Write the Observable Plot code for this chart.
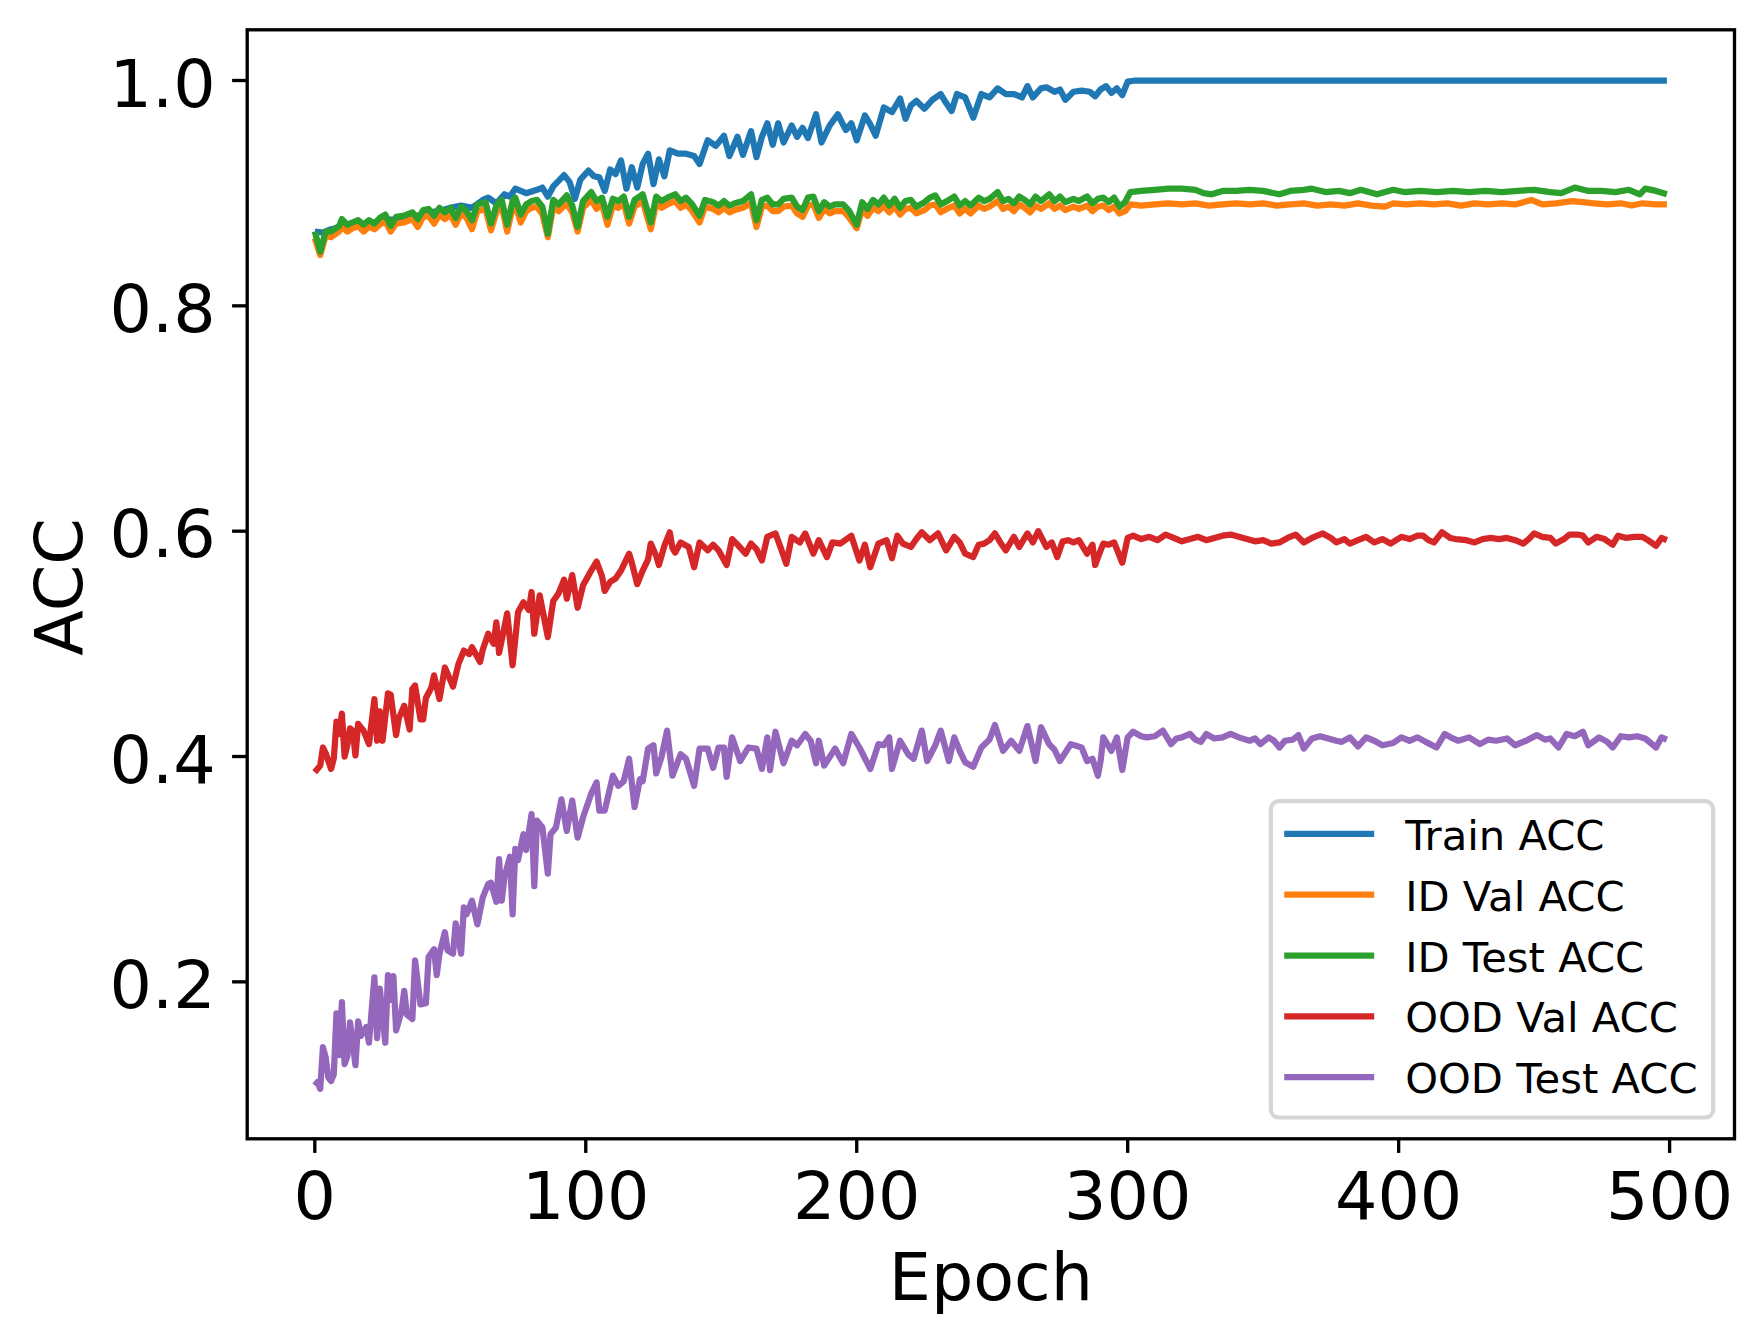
<!DOCTYPE html>
<html>
<head>
<meta charset="utf-8">
<script src="https://cdn.jsdelivr.net/npm/d3@7"></script>
<script src="https://cdn.jsdelivr.net/npm/@observablehq/plot@0.6"></script>
<style>
  html, body { margin: 0; padding: 0; background: #fff; }
  #chart svg { display: block; }
</style>
</head>
<body>
<div id="chart"></div>
<script>
// ---------- data ----------
const seriesNames = ["Train ACC", "ID Val ACC", "ID Test ACC", "OOD Val ACC", "OOD Test ACC"];
const seriesColors = ["#1f77b4", "#ff7f0e", "#2ca02c", "#d62728", "#9467bd"];
const xTicks = [0, 100, 200, 300, 400, 500];
const yTicks = [0.2, 0.4, 0.6, 0.8, 1.0];

const trainEpoch = [0,3,6,10,14,18,22,26,30,34,38,42,46,50,54,58,62,64,67,70,72,74,78,82,84,86,88,92,94,96,98,101,103,105,107,109,111,113,115,117,119,121,123,125,127,129,131,134,137,140,142,145,148,151,153,156,158,161,163,165,167,169,171,173,176,178,180,182,185,187,190,193,196,198,200,203,205,207,210,213,216,218,220,222,225,228,231,233,235,237,240,243,246,249,252,255,258,261,263,265,268,270,273,275,277,280,283,286,288,290,292,294,296,298,300,303,350,400,450,499];
const trainAcc = [0.866,0.865,0.868,0.870,0.872,0.872,0.874,0.877,0.876,0.879,0.880,0.883,0.884,0.887,0.889,0.887,0.894,0.896,0.891,0.899,0.897,0.904,0.900,0.903,0.905,0.897,0.906,0.916,0.910,0.895,0.912,0.920,0.915,0.914,0.902,0.921,0.917,0.929,0.904,0.923,0.905,0.926,0.935,0.908,0.930,0.915,0.938,0.935,0.935,0.933,0.926,0.947,0.942,0.951,0.933,0.950,0.934,0.955,0.932,0.950,0.962,0.943,0.962,0.945,0.960,0.950,0.958,0.949,0.970,0.945,0.960,0.970,0.956,0.962,0.947,0.969,0.961,0.951,0.976,0.972,0.984,0.966,0.978,0.982,0.975,0.983,0.988,0.980,0.973,0.988,0.985,0.967,0.988,0.985,0.993,0.988,0.988,0.985,0.995,0.985,0.993,0.994,0.990,0.992,0.983,0.990,0.991,0.990,0.986,0.992,0.995,0.989,0.993,0.987,0.999,1.000,1.000,1.000,1.000,1.000];

const idValEpoch = [0,2,4,6,9,10,12,14,16,18,20,22,24,26,28,30,33,36,38,40,42,44,46,48,50,52,54,56,58,60,63,65,67,69,71,73,74,76,78,80,82,84,86,88,90,93,95,97,99,102,104,106,108,110,112,114,116,118,121,124,126,128,131,133,135,137,139,142,144,147,149,151,153,155,158,161,163,165,167,169,171,173,176,178,180,182,184,186,188,190,192,195,197,200,202,204,206,208,210,212,214,216,218,220,222,225,227,229,231,234,236,238,240,242,245,247,249,252,254,256,258,260,262,264,266,268,271,273,275,277,280,282,285,287,289,291,293,295,297,299,301,305,310,315,320,325,330,335,340,345,350,355,360,365,370,375,380,385,390,395,398,403,408,413,418,423,428,433,438,443,449,453,458,464,468,472,477,482,486,490,495,499];
const idValAcc = [0.860,0.845,0.862,0.861,0.866,0.870,0.866,0.869,0.871,0.866,0.870,0.868,0.872,0.875,0.866,0.873,0.874,0.877,0.870,0.879,0.880,0.873,0.881,0.877,0.881,0.872,0.882,0.878,0.868,0.884,0.886,0.867,0.883,0.888,0.866,0.887,0.889,0.874,0.884,0.887,0.888,0.881,0.861,0.888,0.884,0.891,0.883,0.866,0.887,0.894,0.886,0.890,0.872,0.889,0.887,0.891,0.873,0.888,0.893,0.868,0.891,0.887,0.891,0.893,0.887,0.890,0.885,0.874,0.888,0.886,0.883,0.887,0.883,0.885,0.887,0.891,0.870,0.888,0.889,0.884,0.884,0.888,0.889,0.882,0.879,0.889,0.890,0.878,0.886,0.882,0.884,0.884,0.879,0.869,0.886,0.880,0.887,0.884,0.889,0.883,0.888,0.881,0.886,0.887,0.882,0.885,0.889,0.890,0.883,0.887,0.889,0.882,0.886,0.882,0.889,0.886,0.888,0.893,0.886,0.888,0.884,0.890,0.887,0.883,0.889,0.886,0.891,0.886,0.889,0.885,0.888,0.886,0.889,0.884,0.888,0.889,0.885,0.888,0.882,0.884,0.890,0.889,0.890,0.891,0.890,0.891,0.889,0.890,0.891,0.890,0.891,0.889,0.890,0.891,0.889,0.890,0.889,0.891,0.889,0.888,0.891,0.890,0.891,0.890,0.891,0.889,0.891,0.890,0.891,0.890,0.894,0.890,0.891,0.893,0.892,0.891,0.890,0.891,0.889,0.891,0.890,0.890];

const idTestEpoch = [0,2,4,6,9,10,12,14,16,18,20,22,24,26,28,30,33,36,38,40,42,44,46,48,50,52,54,56,58,60,63,65,67,69,71,73,74,76,78,80,82,84,86,88,90,93,95,97,99,102,104,106,108,110,112,114,116,118,121,124,126,128,131,133,135,137,139,142,144,147,149,151,153,155,158,161,163,165,167,169,171,173,176,178,180,182,184,186,188,190,192,195,197,200,202,204,206,208,210,212,214,216,218,220,222,225,227,229,231,234,236,238,240,242,245,247,249,252,254,256,258,260,262,264,266,268,271,273,275,277,280,282,285,287,289,291,293,295,297,299,301,305,310,315,320,325,328,331,335,340,345,350,356,360,365,368,373,378,382,386,392,398,402,408,414,420,426,432,438,444,450,456,460,465,470,475,480,485,489,491,495,499];
const idTestAcc = [0.866,0.848,0.866,0.866,0.871,0.877,0.872,0.874,0.876,0.872,0.876,0.873,0.878,0.881,0.871,0.879,0.880,0.883,0.877,0.885,0.886,0.880,0.887,0.883,0.887,0.878,0.888,0.884,0.876,0.890,0.892,0.873,0.889,0.894,0.872,0.893,0.896,0.881,0.890,0.893,0.894,0.888,0.864,0.894,0.890,0.898,0.889,0.870,0.893,0.901,0.893,0.896,0.879,0.895,0.893,0.897,0.879,0.894,0.899,0.874,0.897,0.893,0.897,0.899,0.893,0.896,0.891,0.880,0.894,0.892,0.889,0.893,0.889,0.891,0.893,0.899,0.876,0.894,0.896,0.890,0.890,0.895,0.896,0.888,0.885,0.896,0.897,0.884,0.892,0.888,0.890,0.890,0.885,0.872,0.892,0.886,0.894,0.890,0.896,0.889,0.895,0.887,0.893,0.894,0.888,0.892,0.896,0.898,0.890,0.894,0.897,0.889,0.893,0.889,0.896,0.893,0.895,0.901,0.893,0.895,0.891,0.897,0.894,0.890,0.897,0.893,0.899,0.893,0.897,0.892,0.895,0.893,0.897,0.891,0.895,0.896,0.892,0.896,0.888,0.892,0.901,0.902,0.903,0.904,0.904,0.903,0.900,0.899,0.902,0.902,0.903,0.902,0.899,0.902,0.903,0.904,0.901,0.902,0.900,0.903,0.899,0.903,0.901,0.902,0.901,0.902,0.901,0.902,0.901,0.902,0.903,0.901,0.900,0.905,0.902,0.902,0.901,0.903,0.899,0.904,0.902,0.899];

const oodValEpoch = [0,2,3,4,6,7,8,9,10,11,12,13,14,15,16,18,20,22,23,24,25,27,28,30,31,33,35,36,37,39,40,41,43,44,46,48,50,51,53,55,57,58,61,62,64,66,67,68,70,71,73,75,77,79,80,81,83,86,88,90,92,93,95,97,99,102,104,106,107,109,111,113,116,117,119,121,123,124,126,127,129,131,132,133,135,138,140,142,145,147,149,152,154,156,159,161,163,165,167,170,172,174,176,179,181,184,186,189,191,194,198,201,203,205,208,211,213,215,217,220,222,224,227,230,233,236,238,240,243,245,247,249,251,253,255,258,260,263,265,267,270,272,274,276,278,280,282,285,287,288,290,291,293,295,298,300,302,305,308,311,314,317,320,323,326,329,332,335,338,341,344,347,350,353,356,359,362,365,368,372,375,377,380,382,385,388,391,394,397,401,404,407,409,411,413,416,419,421,425,428,431,434,437,440,443,446,448,450,453,456,458,461,463,466,468,470,473,476,479,481,484,487,490,492,495,497,499];
const oodValAcc = [0.386,0.392,0.408,0.403,0.389,0.398,0.431,0.420,0.438,0.400,0.410,0.425,0.423,0.401,0.429,0.423,0.411,0.451,0.414,0.440,0.414,0.456,0.455,0.419,0.434,0.445,0.424,0.460,0.463,0.433,0.433,0.452,0.461,0.472,0.451,0.479,0.468,0.462,0.482,0.494,0.491,0.497,0.484,0.495,0.509,0.500,0.519,0.492,0.515,0.527,0.481,0.528,0.537,0.530,0.546,0.509,0.543,0.506,0.538,0.545,0.557,0.540,0.561,0.532,0.552,0.565,0.573,0.560,0.547,0.555,0.558,0.565,0.580,0.572,0.553,0.565,0.575,0.589,0.578,0.570,0.587,0.599,0.585,0.581,0.590,0.586,0.568,0.590,0.583,0.588,0.583,0.570,0.593,0.588,0.580,0.589,0.584,0.574,0.595,0.598,0.585,0.571,0.595,0.590,0.598,0.580,0.592,0.577,0.590,0.589,0.596,0.574,0.588,0.568,0.589,0.592,0.576,0.596,0.589,0.586,0.593,0.599,0.592,0.598,0.583,0.595,0.590,0.580,0.577,0.588,0.589,0.592,0.598,0.590,0.583,0.595,0.586,0.598,0.590,0.600,0.586,0.590,0.577,0.591,0.592,0.590,0.592,0.580,0.588,0.570,0.583,0.589,0.588,0.590,0.572,0.594,0.596,0.593,0.595,0.592,0.597,0.594,0.591,0.593,0.595,0.592,0.594,0.596,0.597,0.595,0.593,0.591,0.592,0.589,0.590,0.594,0.597,0.590,0.594,0.598,0.594,0.590,0.593,0.589,0.592,0.595,0.590,0.593,0.589,0.595,0.593,0.596,0.596,0.592,0.590,0.599,0.594,0.593,0.592,0.590,0.593,0.594,0.593,0.594,0.592,0.589,0.593,0.598,0.595,0.594,0.589,0.593,0.597,0.597,0.596,0.590,0.595,0.593,0.588,0.596,0.594,0.595,0.595,0.592,0.587,0.594,0.592];

const oodTestEpoch = [0,1,2,3,4,5,6,7,8,9,10,11,12,13,15,16,17,19,20,22,23,24,26,27,28,29,30,32,33,34,36,37,39,41,42,44,45,46,48,49,51,52,54,55,56,58,60,62,64,65,67,68,69,70,72,73,74,75,77,78,80,81,82,84,86,87,89,91,93,95,97,99,102,104,105,107,110,112,114,116,118,120,121,123,125,126,128,130,132,135,137,140,142,145,147,149,151,152,154,157,160,163,165,167,168,170,173,176,178,181,183,185,186,188,192,195,198,201,205,208,210,212,213,216,219,221,224,226,229,231,234,236,238,240,243,246,249,251,254,257,260,263,266,268,271,273,275,279,283,285,287,289,290,291,294,296,298,300,302,305,307,310,313,316,318,320,323,325,327,329,332,335,338,341,345,347,349,352,354,356,358,361,363,365,368,371,374,377,379,382,385,388,391,394,398,401,404,407,410,414,417,420,422,426,430,433,436,440,443,447,451,454,456,459,462,465,468,470,474,477,479,482,485,488,491,495,497,499];
const oodTestAcc = [0.108,0.111,0.105,0.142,0.133,0.115,0.112,0.118,0.172,0.135,0.182,0.127,0.134,0.164,0.126,0.165,0.152,0.160,0.146,0.204,0.150,0.194,0.146,0.206,0.184,0.205,0.157,0.174,0.192,0.171,0.167,0.219,0.180,0.181,0.222,0.229,0.206,0.225,0.244,0.228,0.225,0.252,0.225,0.266,0.260,0.272,0.251,0.275,0.287,0.288,0.271,0.309,0.272,0.293,0.311,0.260,0.318,0.308,0.331,0.317,0.349,0.285,0.343,0.337,0.296,0.331,0.337,0.362,0.334,0.361,0.328,0.346,0.367,0.377,0.352,0.352,0.383,0.374,0.378,0.398,0.355,0.380,0.378,0.407,0.410,0.385,0.400,0.423,0.383,0.402,0.398,0.374,0.407,0.407,0.390,0.408,0.408,0.382,0.417,0.396,0.408,0.407,0.389,0.417,0.388,0.422,0.394,0.414,0.410,0.420,0.414,0.394,0.414,0.392,0.407,0.394,0.420,0.408,0.389,0.411,0.410,0.417,0.389,0.414,0.402,0.398,0.423,0.396,0.410,0.423,0.396,0.417,0.405,0.395,0.391,0.408,0.415,0.428,0.405,0.414,0.405,0.427,0.396,0.426,0.411,0.406,0.396,0.411,0.408,0.396,0.398,0.383,0.396,0.417,0.405,0.417,0.388,0.417,0.422,0.418,0.417,0.418,0.423,0.411,0.416,0.417,0.420,0.415,0.413,0.420,0.416,0.417,0.420,0.417,0.414,0.416,0.411,0.417,0.414,0.408,0.414,0.415,0.419,0.407,0.416,0.418,0.416,0.414,0.413,0.417,0.409,0.417,0.414,0.410,0.412,0.417,0.414,0.417,0.413,0.408,0.420,0.416,0.414,0.417,0.411,0.415,0.414,0.416,0.410,0.414,0.419,0.415,0.416,0.408,0.420,0.418,0.422,0.410,0.417,0.413,0.408,0.418,0.417,0.418,0.416,0.408,0.417,0.415];

// ---------- build tables ----------
const toRows = (epochs, accs) => epochs.map((e, i) => ({epoch: e, acc: accs[i]}));
const seriesRows = [
  toRows(trainEpoch, trainAcc),
  toRows(idValEpoch, idValAcc),
  toRows(idTestEpoch, idTestAcc),
  toRows(oodValEpoch, oodValAcc),
  toRows(oodTestEpoch, oodTestAcc)
];

// ---------- layout ----------
const W = 1763, H = 1342;
const M = {left: 246.7, right: 29, top: 29.3, bottom: 203.7};
const FONT = "'DejaVu Sans', 'Liberation Sans', sans-serif";
const LW = 6.25;      // data line width
const AXW = 3.33;     // spine / tick width
const TICK = 14.6;

const chart = Plot.plot({
  width: W,
  height: H,
  marginLeft: M.left,
  marginRight: M.right,
  marginTop: M.top,
  marginBottom: M.bottom,
  style: {fontFamily: FONT, background: "white", color: "black", overflow: "visible"},
  x: {domain: [-24.95, 523.95]},
  y: {domain: [0.0607, 1.045]},
  marks: [
    ...seriesRows.map((rows, i) => Plot.line(rows, {
      x: "epoch", y: "acc", stroke: seriesColors[i], strokeWidth: LW,
      strokeLinejoin: "round", strokeLinecap: "butt"
    })),
    Plot.axisX({ticks: xTicks, tickSize: TICK, tickPadding: 18.6, strokeWidth: AXW,
      fontSize: 66.7, label: null, tickFormat: d => String(d)}),
    Plot.axisY({ticks: yTicks, tickSize: TICK, strokeWidth: AXW, text: null, label: null}),
    Plot.axisY({ticks: yTicks, tickSize: 0, tickPadding: TICK + 17, dy: 4.7,
      fontSize: 66.7, label: null, tickFormat: d3.format(".1f")}),
    Plot.text(["Epoch"], {text: d => d, frameAnchor: "bottom", lineAnchor: "bottom",
      textAnchor: "middle", dy: 160.7, fontSize: 66.7, fill: "black"}),
    Plot.text(["ACC"], {text: d => d, frameAnchor: "left", lineAnchor: "bottom",
      textAnchor: "middle", rotate: -90, dx: -165.7, dy: 2.7, fontSize: 66.7, fill: "black"}),
    Plot.frame({stroke: "black", strokeWidth: AXW})
  ]
});

document.getElementById("chart").appendChild(chart);

// ---------- legend (lower right, inside the axes) ----------
const svg = d3.select(chart);
const boxW = 442.3, boxH = 316.3, pad = 20.8;
const lx = W - M.right - pad - boxW;
const ly = H - M.bottom - pad - boxH;
const lg = svg.append("g").attr("font-family", FONT).attr("text-anchor", "start");
lg.append("rect")
  .attr("x", lx).attr("y", ly).attr("width", boxW).attr("height", boxH)
  .attr("rx", 8).attr("ry", 8)
  .attr("fill", "white").attr("fill-opacity", 0.8)
  .attr("stroke", "#d6d6d6").attr("stroke-width", 4.17);
seriesNames.forEach((name, i) => {
  const yRow = ly + 32.6 + i * 60.85;
  lg.append("line")
    .attr("x1", lx + 13.3 + LW / 2).attr("x2", lx + 103.3 - LW / 2)
    .attr("y1", yRow).attr("y2", yRow)
    .attr("stroke", seriesColors[i]).attr("stroke-width", LW)
    .attr("stroke-linecap", "square");
  lg.append("text")
    .attr("x", lx + 134.3).attr("y", yRow + 16)
    .attr("text-anchor", "start")
    .attr("font-size", 41.7).attr("fill", "black")
    .text(name);
});
</script>
</body>
</html>
